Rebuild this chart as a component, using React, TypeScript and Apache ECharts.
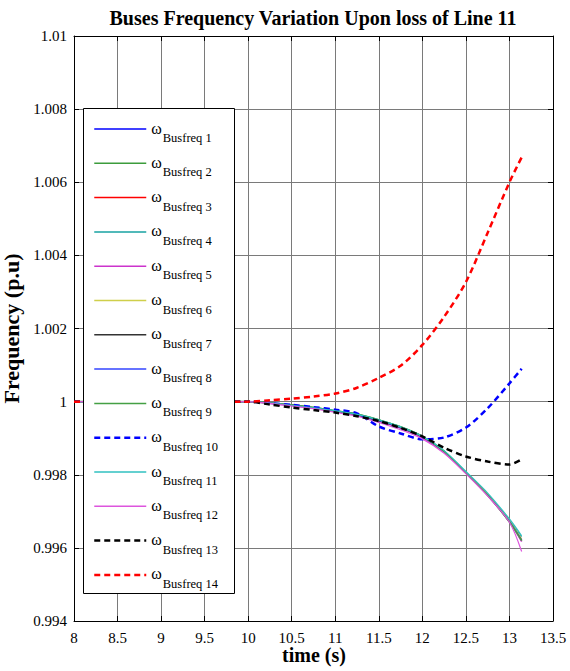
import React, { useEffect, useRef } from "react";
import * as echarts from "echarts";

const times = [8, 9, 10, 10.25, 10.5, 10.75, 11, 11.25, 11.5, 11.75, 12, 12.25, 12.5, 12.75, 13, 13.14];

const bus1 = [1, 1, 1, 0.99996, 0.9999, 0.99983, 0.99974, 0.99964, 0.99948, 0.99929, 0.99904, 0.99864, 0.99806, 0.99745, 0.99673, 0.99623];
const bus2 = [1, 1, 1, 0.99996, 0.99991, 0.99984, 0.99975, 0.99966, 0.9995, 0.99931, 0.99905, 0.99864, 0.99805, 0.99744, 0.99671, 0.9962];
const bus3 = [1, 1, 1, 0.99996, 0.9999, 0.99983, 0.99974, 0.99964, 0.99948, 0.99929, 0.99903, 0.99863, 0.99806, 0.99745, 0.99673, 0.99624];
const bus4 = [1, 1, 1, 0.99996, 0.9999, 0.99983, 0.99975, 0.99965, 0.99949, 0.9993, 0.99904, 0.99865, 0.99808, 0.99748, 0.99676, 0.9963];
const bus5 = [1, 1, 1, 0.99995, 0.99989, 0.99982, 0.99973, 0.99962, 0.99946, 0.99927, 0.99901, 0.99861, 0.99804, 0.99743, 0.99671, 0.99617];
const bus6 = [1, 1, 1, 0.99996, 0.9999, 0.99983, 0.99974, 0.99964, 0.99949, 0.9993, 0.99904, 0.99864, 0.99807, 0.99746, 0.99674, 0.99624];
const bus7 = [1, 1, 1, 0.99996, 0.9999, 0.99982, 0.99973, 0.99963, 0.99947, 0.99928, 0.99903, 0.99863, 0.99805, 0.99744, 0.99672, 0.99621];
const bus8 = [1, 1, 1, 0.99996, 0.9999, 0.99983, 0.99974, 0.99964, 0.99948, 0.99929, 0.99904, 0.99864, 0.99806, 0.99745, 0.99673, 0.99622];
const bus9 = [1, 1, 1, 0.99996, 0.99991, 0.99984, 0.99975, 0.99966, 0.9995, 0.99931, 0.99905, 0.99864, 0.99805, 0.99744, 0.99671, 0.9962];
const bus10 = [1, 1, 1, 0.99996, 0.99991, 0.99985, 0.99978, 0.99968, 0.99932, 0.99913, 0.99897, 0.99902, 0.99929, 0.99982, 1.0005, 1.0009];
const bus11 = [1, 1, 1, 0.99996, 0.9999, 0.99983, 0.99975, 0.99965, 0.9995, 0.99931, 0.99905, 0.99866, 0.99809, 0.9975, 0.99679, 0.99633];
const bus12 = [1, 1, 1, 0.99995, 0.99988, 0.99981, 0.99971, 0.9996, 0.99943, 0.99923, 0.99898, 0.99859, 0.99803, 0.99742, 0.9967, 0.9959];
const bus13 = [1, 1, 1, 0.99992, 0.99984, 0.99977, 0.9997, 0.9996, 0.99947, 0.99928, 0.99905, 0.99874, 0.9985, 0.99836, 0.99828, 0.99842];
const bus14 = [1, 1, 1, 1.00004, 1.00008, 1.00014, 1.00022, 1.00038, 1.00065, 1.00098, 1.00155, 1.00232, 1.00327, 1.00462, 1.006, 1.00668];

const seriesNames = [
  "Busfreq 1", "Busfreq 2", "Busfreq 3", "Busfreq 4", "Busfreq 5", "Busfreq 6", "Busfreq 7",
  "Busfreq 8", "Busfreq 9", "Busfreq 10", "Busfreq 11", "Busfreq 12", "Busfreq 13", "Busfreq 14",
];
const seriesValues = [bus1, bus2, bus3, bus4, bus5, bus6, bus7, bus8, bus9, bus10, bus11, bus12, bus13, bus14];
const seriesColors = [
  "#0000ff", "#3c9c3c", "#ff0000", "#17a2a2", "#cc33cc", "#cfcf4a", "#333333",
  "#3344ff", "#44a044", "#0000ff", "#30c0c0", "#dd55dd", "#000000", "#ff0000",
];
const seriesWidths = [1, 1.6, 1, 1, 1.4, 1.2, 1, 1, 1.4, 2.5, 1.2, 1.2, 2.5, 2.5];
const seriesDashed = [false, false, false, false, false, false, false, false, false, true, false, false, true, true];

const xTicks = { min: 8, max: 13.5, interval: 0.5 };
const yTicks = { min: 0.994, max: 1.01, interval: 0.002 };

const FONT = "'Liberation Serif', 'Times New Roman', serif";

export default function App() {
  const ref = useRef<HTMLDivElement>(null);
  useEffect(() => {
    if (!ref.current) return;
    const chart = echarts.init(ref.current, undefined, { renderer: "svg" });
    const grid = { left: 74, right: 17, top: 36, bottom: 50, containLabel: false, outerBoundsMode: "none" };
    const series: any[] = seriesNames.map((name, i) => ({
      name,
      type: "line",
      showSymbol: false,
      symbol: "none",
      smooth: 0.3,
      z: 2 + i * 0.01,
      data: times.map((t, k) => [t, seriesValues[i][k]]),
      lineStyle: {
        color: seriesColors[i],
        width: seriesWidths[i],
        type: seriesDashed[i] ? [6, 4] : "solid",
      },
      itemStyle: { color: seriesColors[i] },
      emphasis: { disabled: true },
    }));
    chart.setOption({
      animation: false,
      backgroundColor: "#ffffff",
      title: {
        text: "Buses Frequency Variation Upon loss of Line 11",
        left: 308,
        textAlign: "center",
        top: 3,
        textStyle: { fontFamily: FONT, fontWeight: "bold", fontSize: 20, color: "#000" },
      },
      grid: [grid],
      graphic: [
        {
          type: "rect",
          z: 3,
          shape: { x: 83.5, y: 108.5, width: 151, height: 485 },
          style: { fill: "#ffffff", stroke: "#000000", lineWidth: 1 },
        },
        {
          type: "text",
          z: 5,
          x: 314,
          y: 655,
          style: {
            text: "time (s)",
            fontFamily: FONT,
            fontWeight: "bold",
            fontSize: 20,
            fill: "#000",
            align: "center",
            verticalAlign: "middle",
          },
        },
      ],
      legend: {
        orient: "vertical",
        left: 93,
        top: 120,
        padding: 0,
        itemWidth: 52,
        itemHeight: 14,
        itemGap: 9.8,
        z: 5,
        itemStyle: { opacity: 0 },
        data: seriesNames.map((n, i) => ({
          name: n,
          lineStyle: { width: seriesDashed[i] ? 2.5 : 1.5, color: seriesColors[i] },
        })),
        formatter: (n: string) => `{w|ω}{s|${n}}`,
        textStyle: {
          fontFamily: FONT,
          color: "#000",
          rich: {
            w: { fontFamily: FONT, fontSize: 16, color: "#000", padding: [0, 1, 2, 0] },
            s: { fontFamily: FONT, fontSize: 12.5, color: "#000", padding: [18, 0, 0, 0] },
          },
        },
      },
      xAxis: [
        {
          type: "value",
          min: xTicks.min,
          max: xTicks.max,
          interval: xTicks.interval,
          axisLine: { show: true, onZero: false, lineStyle: { color: "#000", width: 1 } },
          axisTick: { show: true, inside: true, length: 5, lineStyle: { color: "#000" } },
          axisLabel: { fontFamily: FONT, fontSize: 15, color: "#000", margin: 9, formatter: (v: number) => String(parseFloat(v.toFixed(2))) },
          splitLine: { show: true, lineStyle: { color: "#7a7a7a", width: 1 } },
        },
        {
          type: "value",
          position: "top",
          min: xTicks.min,
          max: xTicks.max,
          interval: xTicks.interval,
          axisLine: { show: true, onZero: false, lineStyle: { color: "#000", width: 1 } },
          axisTick: { show: true, inside: true, length: 5, lineStyle: { color: "#000" } },
          axisLabel: { show: false },
          splitLine: { show: false },
        },
      ],
      yAxis: [
        {
          type: "value",
          min: yTicks.min,
          max: yTicks.max,
          interval: yTicks.interval,
          name: "Frequency (p.u)",
          nameLocation: "middle",
          nameGap: 51,
          nameTextStyle: { fontFamily: FONT, fontWeight: "bold", fontSize: 22, color: "#000" },
          axisLine: { show: true, onZero: false, lineStyle: { color: "#000", width: 1 } },
          axisTick: { show: true, inside: true, length: 5, lineStyle: { color: "#000" } },
          axisLabel: { fontFamily: FONT, fontSize: 15, color: "#000", margin: 7, formatter: (v: number) => String(parseFloat(v.toFixed(3))) },
          splitLine: { show: true, lineStyle: { color: "#7a7a7a", width: 1 } },
        },
        {
          type: "value",
          position: "right",
          min: yTicks.min,
          max: yTicks.max,
          interval: yTicks.interval,
          axisLine: { show: true, onZero: false, lineStyle: { color: "#000", width: 1 } },
          axisTick: { show: true, inside: true, length: 5, lineStyle: { color: "#000" } },
          axisLabel: { show: false },
          splitLine: { show: false },
        },
      ],
      series,
    });
    return () => chart.dispose();
  }, []);
  return <div ref={ref} style={{ width: 570, height: 671, position: "absolute", left: 0, top: 0 }} />;
}
